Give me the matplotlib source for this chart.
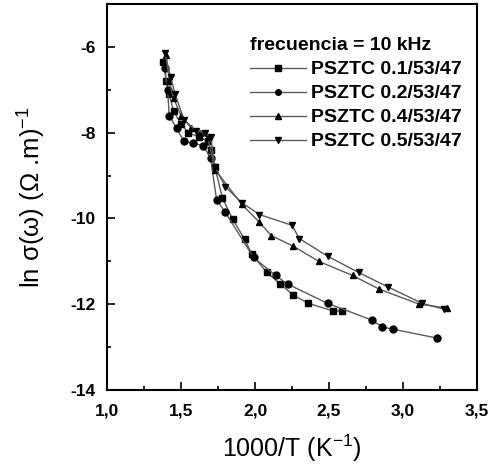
import matplotlib
matplotlib.use('Agg')
import matplotlib.pyplot as plt
from matplotlib.ticker import MultipleLocator, FuncFormatter

plt.rcParams['font.family'] = ['Liberation Sans', 'DejaVu Sans']
plt.rcParams['mathtext.fontset'] = 'custom'
plt.rcParams['mathtext.rm'] = 'Liberation Sans'
plt.rcParams['mathtext.it'] = 'Liberation Sans:italic'

# datos (1000/T, ln sigma)
x_01 = [1.38, 1.40, 1.42, 1.45, 1.50, 1.55, 1.62, 1.68, 1.70, 1.73, 1.78, 1.85, 1.93, 1.98,
        2.08, 2.17, 2.26, 2.36, 2.53, 2.59]
y_01 = [-6.35, -6.8, -7.1, -7.5, -7.8, -8.0, -8.1, -8.2, -8.4, -8.81, -9.53, -10.02, -10.49,
        -10.84, -11.26, -11.53, -11.79, -11.98, -12.16, -12.16]

x_02 = [1.39, 1.41, 1.42, 1.47, 1.52, 1.58, 1.65, 1.70, 1.74, 1.80, 1.99, 2.14, 2.22, 2.49,
        2.79, 2.86, 2.93, 3.23]
y_02 = [-6.5, -7.0, -7.6, -7.9, -8.2, -8.25, -8.3, -8.6, -9.56, -9.86, -10.91, -11.33, -11.53,
        -11.98, -12.37, -12.53, -12.58, -12.79]

x_04 = [1.40, 1.42, 1.45, 1.50, 1.57, 1.63, 1.68, 1.73, 1.91, 2.03, 2.11, 2.26, 2.43, 2.66,
        2.84, 3.11, 3.30]
y_04 = [-6.2, -6.8, -7.2, -7.6, -7.9, -8.0, -8.1, -8.86, -9.67, -10.09, -10.40, -10.65, -11.00,
        -11.33, -11.65, -12.00, -12.09]

x_05 = [1.39, 1.43, 1.46, 1.52, 1.60, 1.66, 1.70, 1.73, 1.80, 1.91, 2.03, 2.25, 2.30, 2.49,
        2.70, 2.90, 3.13, 3.28]
y_05 = [-6.15, -6.7, -7.1, -7.7, -7.95, -8.0, -8.1, -8.81, -9.26, -9.63, -9.91, -10.16, -10.47,
        -10.88, -11.26, -11.60, -11.98, -12.12]

series = [
    (x_01, y_01, 's', 'PSZTC 0.1/53/47'),
    (x_02, y_02, 'o', 'PSZTC 0.2/53/47'),
    (x_04, y_04, '^', 'PSZTC 0.4/53/47'),
    (x_05, y_05, 'v', 'PSZTC 0.5/53/47'),
]

fig = plt.figure(figsize=(4.94, 4.71), dpi=100)
ax = fig.add_axes([0.2166, 0.172, 0.749, 0.8195])

for xs, ys, mk, lab in series:
    ax.plot(xs, ys, color='#5a5a5a', lw=1.0, marker=mk, ms=5,
            mfc='black', mec='black', label=lab)

ax.set_xlim(1.0, 3.5)
ax.set_ylim(-14, -5)
ax.xaxis.set_major_locator(MultipleLocator(0.5))
ax.xaxis.set_minor_locator(MultipleLocator(0.25))
ax.yaxis.set_major_locator(MultipleLocator(2))
ax.yaxis.set_minor_locator(MultipleLocator(1))
ax.xaxis.set_major_formatter(FuncFormatter(lambda v, p: f'{v:.1f}'.replace('.', ',')))
ax.yaxis.set_major_formatter(FuncFormatter(lambda v, p: f'{v:.0f}'))
ax.tick_params(which='both', direction='in', top=False, right=False, width=1.2)
ax.tick_params(which='major', length=6, labelsize=12.5)
ax.tick_params(axis='x', which='major', pad=10)
ax.tick_params(axis='y', which='major', pad=8)
ax.tick_params(which='minor', length=3)
for lbl in ax.get_xticklabels() + ax.get_yticklabels():
    lbl.set_fontweight('bold')
for sp in ax.spines.values():
    sp.set_linewidth(1.5)

ax.set_xlabel('1000/T (K$^{-1}$)', fontsize=18, labelpad=10)
ax.set_ylabel(r'ln $\mathrm{\sigma}$($\mathrm{\omega}$) ($\mathrm{\Omega}$ .m)$^{-1}$', fontsize=18.5, labelpad=16)

leg = ax.legend(title='frecuencia = 10 kHz', loc='upper right', bbox_to_anchor=(1.016, 0.969),
                frameon=False, fontsize=14, title_fontsize=14, handlelength=2.9,
                handletextpad=0.25, labelspacing=0.33, borderaxespad=0.5, borderpad=0.6,
                numpoints=1, markerscale=0.8)
leg._legend_box.align = 'left'
for t in leg.get_texts():
    t.set_fontweight('bold')
leg.get_title().set_fontweight('bold')

fig.savefig('out.png', dpi=100)
